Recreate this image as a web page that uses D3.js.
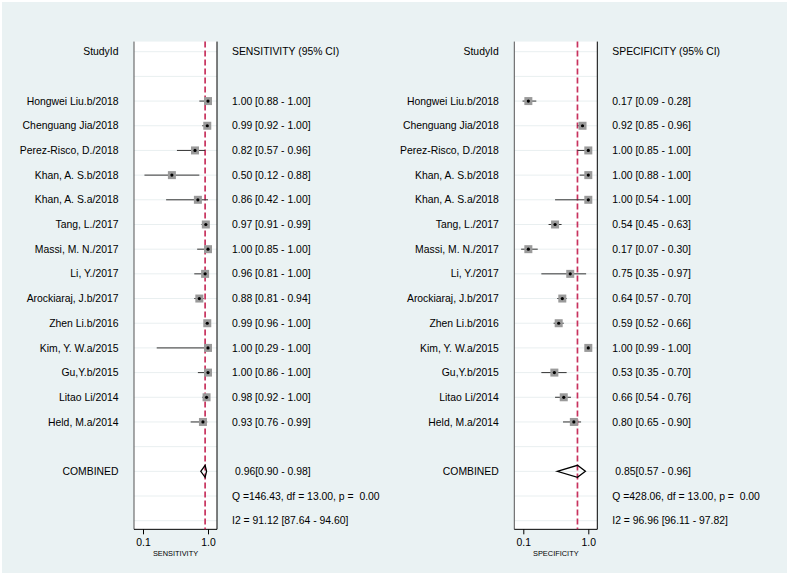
<!DOCTYPE html>
<html>
<head>
<meta charset="utf-8">
<script src="https://cdn.jsdelivr.net/npm/d3@7"></script>
<style>
  html, body { margin: 0; padding: 0; background: #ffffff; }
  svg { display: block; font-family: "Liberation Sans", Arial, sans-serif; }
  svg text { white-space: pre; }
</style>
</head>
<body>
<svg id="chart" width="790" height="576"></svg>
<script>
const studies = ["Hongwei Liu.b/2018", "Chenguang Jia/2018", "Perez-Risco, D./2018", "Khan, A. S.b/2018",
  "Khan, A. S.a/2018", "Tang, L./2017", "Massi, M. N./2017", "Li, Y./2017", "Arockiaraj, J.b/2017",
  "Zhen Li.b/2016", "Kim, Y. W.a/2015", "Gu,Y.b/2015", "Litao Li/2014", "Held, M.a/2014"];

const sens   = [1.00, 0.99, 0.82, 0.50, 0.86, 0.97, 1.00, 0.96, 0.88, 0.99, 1.00, 1.00, 0.98, 0.93];
const sensLo = [0.88, 0.92, 0.57, 0.12, 0.42, 0.91, 0.85, 0.81, 0.81, 0.96, 0.29, 0.86, 0.92, 0.76];
const sensHi = [1.00, 1.00, 0.96, 0.88, 1.00, 0.99, 1.00, 1.00, 0.94, 1.00, 1.00, 1.00, 1.00, 0.99];

const spec   = [0.17, 0.92, 1.00, 1.00, 1.00, 0.54, 0.17, 0.75, 0.64, 0.59, 1.00, 0.53, 0.66, 0.80];
const specLo = [0.09, 0.85, 0.85, 0.88, 0.54, 0.45, 0.07, 0.35, 0.57, 0.52, 0.99, 0.35, 0.54, 0.65];
const specHi = [0.28, 0.96, 1.00, 1.00, 1.00, 0.63, 0.30, 0.97, 0.70, 0.66, 1.00, 0.70, 0.76, 0.90];

const combinedSens = [0.96, 0.90, 0.98];   // estimate, lower, upper
const combinedSpec = [0.85, 0.57, 0.96];
const statsSens = ["Q =146.43, df = 13.00, p =  0.00", "I2 = 91.12 [87.64 - 94.60]"];
const statsSpec = ["Q =428.06, df = 13.00, p =  0.00", "I2 = 96.96 [96.11 - 97.82]"];
const headers = ["SENSITIVITY (95% CI)", "SPECIFICITY (95% CI)"];
const axisTitles = ["SENSITIVITY", "SPECIFICITY"];
const tickValues = [0.1, 1.0];
const tickLabels = ["0.1", "1.0"];

const svg = d3.select("#chart");
svg.append("rect").attr("x", 2).attr("y", 2).attr("width", 785).attr("height", 571).attr("fill", "#eaf2f3");

const FONT = 10.4;
const y = d3.scaleLinear().domain([0, 19]).range([51.7, 520.7]);
const boxTop = y(-0.41), boxBottom = y(19.35);

function fmt(v) { return v.toFixed(2); }

function panel(opts) {
  const x = d3.scaleLinear().domain([0.1, 1.0]).range(opts.range);
  const bl = x(0.1) - 9, br = x(1.0) + 9;
  const g = svg.append("g");

  g.append("rect").attr("x", bl).attr("y", boxTop).attr("width", br - bl).attr("height", boxBottom - boxTop).attr("fill", "#ffffff");

  // gridlines
  const rows = d3.range(0, 20);
  g.selectAll("line.grid").data(rows).enter().append("line")
    .attr("x1", bl).attr("x2", br).attr("y1", d => y(d)).attr("y2", d => y(d))
    .attr("stroke", "#e9eff0").attr("stroke-width", 1);

  // box lines
  g.append("line").attr("x1", bl).attr("x2", bl).attr("y1", boxTop).attr("y2", boxBottom).attr("stroke", "#555").attr("stroke-width", 1);
  g.append("line").attr("x1", br).attr("x2", br).attr("y1", boxTop).attr("y2", boxBottom).attr("stroke", "#000").attr("stroke-width", 1);
  g.append("line").attr("x1", bl).attr("x2", br).attr("y1", boxBottom).attr("y2", boxBottom).attr("stroke", "#000").attr("stroke-width", 1);

  // axis
  const axis = d3.axisBottom(x).tickValues(tickValues).tickFormat((d, i) => tickLabels[i]).tickSize(5).tickSizeOuter(0);
  const ag = g.append("g").attr("transform", `translate(0,${boxBottom})`).call(axis);
  ag.select(".domain").remove();
  ag.selectAll(".tick line").attr("stroke", "#000");
  ag.selectAll(".tick text").attr("font-size", FONT).attr("font-family", "Liberation Sans, Arial, sans-serif")
    .attr("fill", "#000").attr("dy", 0).attr("y", 17);

  g.append("text").attr("x", (x(0.1) + x(1.0)) / 2).attr("y", 556).attr("text-anchor", "middle")
    .attr("font-size", 7.4).attr("fill", "#000").text(opts.axisTitle);

  // combined reference line
  g.append("line").attr("x1", x(opts.comb[0])).attr("x2", x(opts.comb[0])).attr("y1", boxTop).attr("y2", boxBottom)
    .attr("stroke", "#c8325e").attr("stroke-width", 1.7).attr("stroke-dasharray", "6,3");

  // study rows
  const data = studies.map((s, i) => ({ s, v: opts.v[i], lo: opts.lo[i], hi: opts.hi[i], r: i + 2 }));
  g.selectAll("line.ci").data(data).enter().append("line")
    .attr("x1", d => x(d.lo)).attr("x2", d => x(d.hi)).attr("y1", d => y(d.r)).attr("y2", d => y(d.r))
    .attr("stroke", "#333").attr("stroke-width", 1);
  g.selectAll("rect.pt").data(data).enter().append("rect")
    .attr("x", d => x(d.v) - 4).attr("y", d => y(d.r) - 4).attr("width", 8).attr("height", 8)
    .attr("fill", "#9a9a9a");
  g.selectAll("circle.pt").data(data).enter().append("circle")
    .attr("cx", d => x(d.v)).attr("cy", d => y(d.r)).attr("r", 1.6).attr("fill", "#000");

  // combined diamond
  const c = opts.comb, cy = y(17);
  g.append("path")
    .attr("d", `M${x(c[1])},${cy} L${x(c[0])},${cy - 6} L${x(c[2])},${cy} L${x(c[0])},${cy + 6} Z`)
    .attr("fill", "none").attr("stroke", "#000").attr("stroke-width", 1.3);

  // labels
  const lx = bl - 15.5, tx = br + 15;
  const txt = (xx, r, t, anchor) => g.append("text").attr("x", xx).attr("y", y(r)).attr("dy", "0.35em")
    .attr("text-anchor", anchor).attr("font-size", FONT).attr("fill", "#000").text(t);
  txt(lx, 0, "StudyId", "end");
  txt(tx, 0, opts.header, "start");
  data.forEach(d => {
    txt(lx, d.r, d.s, "end");
    txt(tx, d.r, `${fmt(d.v)} [${fmt(d.lo)} - ${fmt(d.hi)}]`, "start");
  });
  txt(lx, 17, "COMBINED", "end");
  txt(tx + 3, 17, `${fmt(c[0])}[${fmt(c[1])} - ${fmt(c[2])}]`, "start");
  txt(tx, 18, opts.stats[0], "start");
  txt(tx, 19, opts.stats[1], "start");
}

panel({ range: [143, 208], v: sens, lo: sensLo, hi: sensHi, comb: combinedSens, stats: statsSens, header: headers[0], axisTitle: axisTitles[0] });
panel({ range: [523.3, 588.3], v: spec, lo: specLo, hi: specHi, comb: combinedSpec, stats: statsSpec, header: headers[1], axisTitle: axisTitles[1] });
</script>
</body>
</html>
